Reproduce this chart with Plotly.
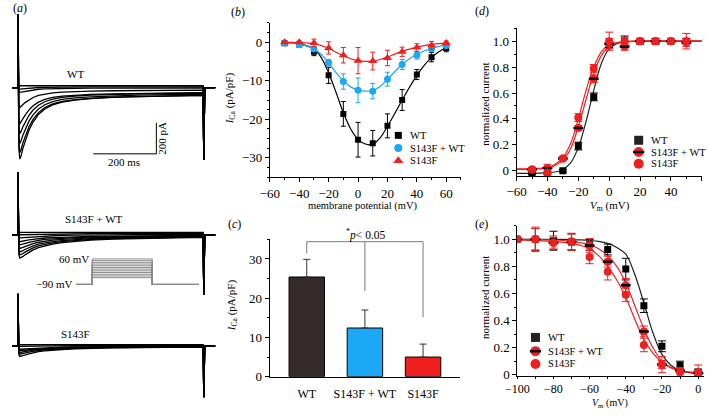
import plotly.graph_objects as go

W, H = 707, 419
SERIF = "Liberation Serif"
RED = "#f01f1f"
BLUE = "#1ca8f5"
TICK_SIZE = 13
TEXT_SIZE = 11

# ---------------- (a) whole-cell current traces (template) ----------------
trace_t_ms = [-19, -0.5, 0, 0.8, 3, 6, 10, 16, 24, 35, 48, 65, 85, 110, 140, 180, 230, 300, 380, 470, 586, 588, 591, 625]
cap_on  = [0, 0, 1, 0, 0, 0, 0, 0, 0, 0, 0, 0, 0, 0, 0, 0, 0, 0, 0, 0, 0, 0, 0, 0]
cap_off = [0, 0, 0, 0, 0, 0, 0, 0, 0, 0, 0, 0, 0, 0, 0, 0, 0, 0, 0, 0, 0, 1, 0, 0]
plateau = [0, 0, 0, 0.4, 1, 1, 1, 1, 1, 1, 1, 1, 1, 1, 1, 1, 1, 1, 1, 1, 1, 0, 0, 0]
wt_shape  = [0, 0, 0, 0.3, 0.85, 1.0, 0.95, 0.84, 0.72, 0.58, 0.46, 0.35, 0.27, 0.21, 0.17, 0.14, 0.12, 0.10, 0.09, 0.08, 0.07, 0, 0, 0]
mut_shape = [0, 0, 0, 0.3, 0.85, 1.0, 0.98, 0.93, 0.85, 0.75, 0.65, 0.55, 0.47, 0.40, 0.34, 0.28, 0.23, 0.19, 0.16, 0.13, 0.11, 0, 0, 0]

wt_peaks_pA = [0, 15, 30, 120, 215, 280, 340, 395, 441]
wt_late_pA = [-12, -6, 0, 8, 18, 15, 18, 22, 18]
mix_peaks_pA = [0, 10, 25, 45, 65, 88, 110, 130, 150]
mix_late_pA = [-15, -10, -5, 0, 0, 0, 0, 0, 0]
mut_peaks_pA = [0, 8, 21, 29, 42, 53, 67]
mut_late_pA = [-8, -5, 0, 0, 0, 0, 0]
cap_spike_pA = [470, 400, 335]
tail_spike_pA = [465, 385, 330]
trace_labels = ["WT", "S143F + WT", "S143F"]

# voltage protocol (inset)
proto_t_ms = [-82, 0, 0, 300, 300, 533]
proto_hold_mV = -90
proto_steps_mV = [-50, -40, -30, -20, -10, 0, 10, 20, 30, 40, 50, 60]

# scale bar
scale_ms = 200
scale_pA = 200

# ---------------- (b) I-V ----------------
b_V = [-50, -40, -30, -20, -10, 0, 10, 20, 30, 40, 50, 60]
b_WT = [-0.3, -0.6, -2.5, -8.6, -18.6, -25.3, -26.2, -21.7, -15.0, -8.4, -3.9, -1.5]
b_WT_err = [0.3, 0.4, 1.0, 2.1, 3.2, 4.5, 3.3, 3.1, 2.7, 1.3, 1.2, 1.0]
b_mix = [-0.2, -0.7, -1.8, -5.3, -10.2, -12.5, -12.7, -9.6, -5.8, -3.4, -1.7, -0.85]
b_mix_err = [0.2, 0.3, 0.6, 0.8, 2.0, 3.2, 2.0, 1.8, 1.3, 1.0, 0.8, 0.6]
b_mut = [0.0, 0.0, -0.2, -1.5, -3.4, -4.8, -4.9, -4.1, -2.5, -1.4, -0.8, -0.2]
b_mut_err = [0.2, 0.3, 1.0, 1.6, 2.0, 3.4, 2.3, 2.0, 1.2, 1.0, 1.0, 0.5]
b_fit_V = [-50, -40, -30, -25, -20, -15, -10, -5, 0, 5, 10, 15, 20, 25, 30, 35, 40, 45, 50, 55, 60]
b_fit_WT = [-0.1, -0.4, -1.8, -4.0, -8.0, -13.0, -18.3, -22.5, -25.2, -26.4, -26.5, -24.8, -21.8, -18.5, -15.0, -11.7, -8.6, -6.0, -4.0, -2.5, -1.4]
b_fit_mix = [-0.1, -0.5, -1.7, -3.2, -5.3, -7.9, -10.0, -11.6, -12.4, -12.7, -12.6, -11.5, -9.7, -7.6, -5.8, -4.3, -3.2, -2.3, -1.6, -1.1, -0.7]
b_fit_mut = [0.0, -0.1, -0.4, -0.9, -1.6, -2.6, -3.5, -4.3, -4.8, -5.0, -4.9, -4.5, -3.9, -3.1, -2.4, -1.8, -1.3, -0.9, -0.6, -0.4, -0.2]

# ---------------- (c) peak current density ----------------
c_groups = ["WT", "S143F + WT", "S143F"]
c_mean = [25.4, 12.4, 5.0]
c_err = [4.5, 4.6, 3.3]
c_colors = ["#332a29", BLUE, RED]
bracket_top = 34.4
bracket_bottoms = [31.4, 21.8, 15.2]

# ---------------- (d) activation ----------------
d_V = [-50, -40, -30, -20, -10, 0, 10, 20, 30, 40, 50]
d_WT = [-0.02, -0.02, 0.0, 0.19, 0.57, 0.97, 1.0, 1.0, 1.0, 1.0, 1.0]
d_WT_err = [0.01, 0.01, 0.01, 0.03, 0.03, 0.02, 0.04, 0.02, 0.02, 0.01, 0.02]
d_mix = [0.01, 0.02, 0.095, 0.33, 0.71, 0.98, 0.96, 1.0, 1.0, 1.0, 0.99]
d_mix_err = [0.01, 0.03, 0.01, 0.02, 0.03, 0.04, 0.03, 0.02, 0.02, 0.01, 0.03]
d_mut = [0.01, -0.02, 0.095, 0.41, 0.79, 1.0, 1.0, 1.0, 1.0, 1.0, 1.0]
d_mut_err = [0.01, 0.05, 0.01, 0.03, 0.03, 0.07, 0.03, 0.02, 0.02, 0.01, 0.06]
d_fit_V = [-60, -50, -40, -35, -30, -25, -20, -15, -10, -5, 0, 5, 10, 20, 30, 40, 50, 60]
d_fit_WT = [-0.02, -0.02, -0.015, -0.01, 0.01, 0.06, 0.18, 0.38, 0.62, 0.83, 0.94, 0.98, 0.995, 1.0, 1.0, 1.0, 1.0, 1.0]
d_fit_mix = [0.01, 0.012, 0.02, 0.04, 0.08, 0.17, 0.34, 0.55, 0.75, 0.89, 0.96, 0.985, 0.995, 1.0, 1.0, 1.0, 1.0, 1.0]
d_fit_mut = [0.015, 0.017, 0.025, 0.05, 0.10, 0.21, 0.40, 0.62, 0.80, 0.92, 0.975, 0.99, 0.997, 1.0, 1.0, 1.0, 1.0, 1.0]

# ---------------- (e) steady-state inactivation ----------------
e_V = [-100, -90, -80, -70, -60, -50, -40, -30, -20, -10, 0]
e_WT = [1.0, 1.0, 0.99, 0.98, 0.96, 0.925, 0.78, 0.51, 0.21, 0.07, 0.02]
e_WT_err = [0.01, 0.08, 0.07, 0.06, 0.04, 0.04, 0.08, 0.05, 0.04, 0.03, 0.02]
e_mix = [1.0, 1.0, 0.975, 0.98, 0.955, 0.835, 0.66, 0.32, 0.075, 0.03, 0.015]
e_mix_err = [0.01, 0.09, 0.05, 0.06, 0.05, 0.04, 0.05, 0.04, 0.03, 0.02, 0.02]
e_mut = [1.0, 1.0, 0.975, 0.985, 0.87, 0.76, 0.59, 0.22, 0.075, 0.02, 0.012]
e_mut_err = [0.01, 0.08, 0.04, 0.06, 0.05, 0.06, 0.05, 0.05, 0.06, 0.03, 0.06]
e_fit_V = [-100, -90, -80, -70, -65, -60, -55, -50, -45, -40, -35, -30, -25, -20, -15, -10, -5, 0, 3]
e_fit_WT = [1.0, 1.0, 1.0, 0.998, 0.996, 0.992, 0.985, 0.97, 0.94, 0.89, 0.74, 0.53, 0.31, 0.15, 0.07, 0.03, 0.015, 0.008, 0.006]
e_fit_mix = [1.0, 0.998, 0.995, 0.985, 0.975, 0.96, 0.93, 0.88, 0.8, 0.68, 0.51, 0.34, 0.2, 0.1, 0.055, 0.03, 0.02, 0.015, 0.013]
e_fit_mut = [0.995, 0.99, 0.985, 0.97, 0.955, 0.93, 0.88, 0.8, 0.7, 0.57, 0.41, 0.26, 0.16, 0.09, 0.05, 0.03, 0.02, 0.015, 0.013]

legend_names = ["WT", "S143F + WT", "S143F"]


# ---------------- helpers ----------------
def dx(a, b):
    return [a / W, b / W]


def dy(top, bottom):
    return [1 - bottom / H, 1 - top / H]


def ann(text, x, y, size=TEXT_SIZE, xanchor="center", yanchor="middle", angle=0):
    return dict(text=text, x=x / W, y=1 - y / H, xref="paper", yref="paper",
                showarrow=False, xanchor=xanchor, yanchor=yanchor, textangle=angle,
                font=dict(family=SERIF, size=size, color="black"))


def hidden(domain, rng, anchor):
    return dict(domain=domain, range=rng, visible=False, anchor=anchor, fixedrange=True)


def axis(domain, rng, anchor, dtick, minor_dtick, **kw):
    d = dict(domain=domain, range=rng, anchor=anchor, showline=True, linecolor="black",
             linewidth=1, ticks="outside", ticklen=4, tickwidth=1, tickcolor="black",
             showgrid=False, zeroline=False,
             tickfont=dict(family=SERIF, size=TICK_SIZE, color="black"),
             dtick=dtick, tick0=0,
             minor=dict(dtick=minor_dtick, tick0=0, ticks="outside", ticklen=2,
                        tickcolor="black", showgrid=False))
    d.update(kw)
    return d


fig = go.Figure()

# ---------------- (a) ----------------
groups = [
    (wt_peaks_pA, wt_late_pA, wt_shape, "x", "y"),
    (mix_peaks_pA, mix_late_pA, mut_shape, "x2", "y2"),
    (mut_peaks_pA, mut_late_pA, mut_shape, "x3", "y3"),
]
for gi, (peaks, lates, shape, xa, ya) in enumerate(groups):
    for pk, lt in zip(peaks, lates):
        cur = [cap_spike_pA[gi] * c1 - tail_spike_pA[gi] * c2 - pk * s - lt * p
               for c1, c2, s, p in zip(cap_on, cap_off, shape, plateau)]
        fig.add_trace(go.Scatter(x=trace_t_ms, y=cur, mode="lines", xaxis=xa, yaxis=ya,
                                 line=dict(color="black", width=1.3), showlegend=False,
                                 hoverinfo="skip"))

for v in proto_steps_mV:
    fig.add_trace(go.Scatter(x=proto_t_ms, y=[proto_hold_mV, proto_hold_mV, v, v, proto_hold_mV, proto_hold_mV],
                             mode="lines", xaxis="x4", yaxis="y4",
                             line=dict(color="#8a8a8a", width=1), showlegend=False, hoverinfo="skip"))

# ---------------- (b) ----------------
for fy, col in [(b_fit_WT, "black"), (b_fit_mix, BLUE), (b_fit_mut, RED)]:
    fig.add_trace(go.Scatter(x=b_fit_V, y=fy, mode="lines", line=dict(color=col, width=1.2, shape="spline"),
                             xaxis="x5", yaxis="y5", showlegend=False, hoverinfo="skip"))
for yv, err, col, sym, sz in [(b_WT, b_WT_err, "black", "square", 6),
                              (b_mix, b_mix_err, BLUE, "circle", 7),
                              (b_mut, b_mut_err, RED, "triangle-up", 8)]:
    fig.add_trace(go.Scatter(x=b_V, y=yv, mode="markers", xaxis="x5", yaxis="y5",
                             marker=dict(symbol=sym, size=sz, color=col, line=dict(width=0)),
                             error_y=dict(type="data", array=err, color=col, thickness=1, width=2.5),
                             showlegend=False))

# ---------------- (c) ----------------
fig.add_trace(go.Bar(x=c_groups, y=c_mean, width=0.61, xaxis="x6", yaxis="y6",
                     marker=dict(color=c_colors, line=dict(color="black", width=1)),
                     error_y=dict(type="data", symmetric=False, array=c_err, arrayminus=[0, 0, 0],
                                  color="#333333", thickness=1, width=3.5),
                     showlegend=False))

# ---------------- (d) & (e) ----------------
for (V, ys, errs, fitV, fits, xa, ya) in [
    (d_V, (d_WT, d_mix, d_mut), (d_WT_err, d_mix_err, d_mut_err), d_fit_V, (d_fit_WT, d_fit_mix, d_fit_mut), "x7", "y7"),
    (e_V, (e_WT, e_mix, e_mut), (e_WT_err, e_mix_err, e_mut_err), e_fit_V, (e_fit_WT, e_fit_mix, e_fit_mut), "x8", "y8"),
]:
    for fy, col in zip(fits, ["#222222", RED, RED]):
        fig.add_trace(go.Scatter(x=fitV, y=fy, mode="lines", line=dict(color=col, width=1.2, shape="spline"),
                                 xaxis=xa, yaxis=ya, showlegend=False, hoverinfo="skip"))
    fig.add_trace(go.Scatter(x=V, y=ys[0], mode="markers", xaxis=xa, yaxis=ya,
                             marker=dict(symbol="square", size=7, color="black"),
                             error_y=dict(type="data", array=errs[0], color="black", thickness=1, width=4),
                             showlegend=False))
    fig.add_trace(go.Scatter(x=V, y=ys[1], mode="markers", xaxis=xa, yaxis=ya,
                             marker=dict(symbol="circle", size=8, color=RED),
                             error_y=dict(type="data", array=errs[1], color=RED, thickness=1, width=4),
                             showlegend=False))
    fig.add_trace(go.Scatter(x=V, y=ys[1], mode="markers", xaxis=xa, yaxis=ya,
                             marker=dict(symbol="line-ew", size=7, color="black", line=dict(color="black", width=2.5)),
                             showlegend=False, hoverinfo="skip"))
    fig.add_trace(go.Scatter(x=V, y=ys[2], mode="markers", xaxis=xa, yaxis=ya,
                             marker=dict(symbol="circle", size=8, color=RED),
                             error_y=dict(type="data", array=errs[2], color=RED, thickness=1, width=4),
                             showlegend=False))


# ---------------- legends (drawn on a full-figure pixel overlay) ----------------
def legend_block(x0, ys, symbols, colors, sizes, band):
    for i, y in enumerate(ys):
        fig.add_trace(go.Scatter(x=[x0], y=[y], mode="markers", xaxis="x9", yaxis="y9",
                                 marker=dict(symbol=symbols[i], size=sizes[i], color=colors[i]),
                                 showlegend=False, hoverinfo="skip"))
        if band[i]:
            fig.add_trace(go.Scatter(x=[x0], y=[y], mode="markers", xaxis="x9", yaxis="y9",
                                     marker=dict(symbol="line-ew", size=8, color="black",
                                                 line=dict(color="black", width=2.5)),
                                     showlegend=False, hoverinfo="skip"))


legend_block(393, [138, 151, 164], ["square", "circle", "triangle-up"], ["black", BLUE, RED], [7, 8, 9], [0, 0, 0])
legend_block(637.5, [143, 155, 167], ["square", "circle", "circle"], ["#222222", RED, RED], [9, 10, 10], [0, 1, 0])
legend_block(532.5, [344, 358, 371], ["square", "circle", "circle"], ["#222222", RED, RED], [9, 10, 10], [0, 1, 0])

annotations = []
for (tx, ys) in [(403, [138, 151, 164]), (648, [143, 155, 167]), (543, [344, 358, 371])]:
    for name, y in zip(legend_names, ys):
        annotations.append(ann(name, tx, y, size=10.5, xanchor="left"))

# panel letters
for t, x, y in [("(<i>a</i>)", 8, 8), ("(<i>b</i>)", 230, 12), ("(<i>c</i>)", 226, 228),
                ("(<i>d</i>)", 478, 11), ("(<i>e</i>)", 478, 228)]:
    annotations.append(ann(t, x, y, size=12))

# panel (a) labels
annotations += [
    ann(trace_labels[0], 65, 75),
    ann(trace_labels[1], 83, 223),
    ann(trace_labels[2], 65, 340),
    ann(f"{scale_ms} ms", 114, 165),
    ann(f"{scale_pA} pA", 153, 141, angle=-90),
    ann(f"{proto_steps_mV[-1]} mV", 80, 264, xanchor="right"),
    ann(f"\u2212{abs(proto_hold_mV)} mV", 64, 290, xanchor="right"),
]

# axis titles
ica = "<i>I</i><sub>Ca</sub> (pA/pF)"
vm = "<i>V</i><sub>m</sub> (mV)"
annotations += [
    ann(ica, 222, 100, angle=-90),
    ann("membrane potential (mV)", 357, 210, size=10.5),
    ann(ica, 224, 311, angle=-90),
    ann("normalized current", 481, 106, angle=-90),
    ann(vm, 608, 210),
    ann("normalized current", 481, 303, angle=-90),
    ann(vm, 608, 420, size=10, yanchor="bottom"),
    # significance label above the bracket
    ann("<sup>*</sup><i>p</i>< 0.05", 360, 239, size=11.5),
]

shapes = []
# scale bar in WT trace axes
sb_t, sb_i = 438, -425
shapes.append(dict(type="line", xref="x", yref="y", x0=sb_t - scale_ms, x1=sb_t, y0=sb_i, y1=sb_i,
                   line=dict(color="black", width=1)))
shapes.append(dict(type="line", xref="x", yref="y", x0=sb_t, x1=sb_t, y0=sb_i, y1=sb_i + scale_pA,
                   line=dict(color="black", width=1)))
# significance bracket
gray = dict(color="#7a7a7a", width=1)
shapes.append(dict(type="line", xref="x6", yref="y6", x0=0, x1=2, y0=bracket_top, y1=bracket_top, line=gray))
for i, yb in enumerate(bracket_bottoms):
    shapes.append(dict(type="line", xref="x6", yref="y6", x0=i, x1=i, y0=yb, y1=bracket_top, line=gray))

a_x = dx(0, 207)
a_rng = [-18.7, 625]
yticks01 = dict(tickmode="array", tickvals=[0, 0.2, 0.4, 0.6, 0.8, 1.0],
                ticktext=["0", "0.2", "0.4", "0.6", "0.8", "1.0"])
fig.update_layout(
    width=W, height=H, margin=dict(l=0, r=0, t=0, b=0),
    paper_bgcolor="white", plot_bgcolor="rgba(0,0,0,0)",
    showlegend=False,
    xaxis=hidden(a_x, a_rng, "y"), yaxis=hidden(dy(12, 170), [-508, 487], "x"),
    xaxis2=hidden(a_x, a_rng, "y2"), yaxis2=hidden(dy(172, 305), [-414, 424], "x2"),
    xaxis3=hidden(a_x, a_rng, "y3"), yaxis3=hidden(dy(297, 410), [-361, 351], "x3"),
    xaxis4=hidden(dx(65, 190), [-82, 533], "y4"), yaxis4=hidden(dy(262, 292), [-101.5, 71.5], "x4"),
    xaxis5=axis(dx(262.3, 456.7), [-60, 70], "y5", 20, 10),
    yaxis5=axis(dy(23.3, 180.6), [-35, 5], "x5", 10, 2.5),
    xaxis6=dict(domain=dx(262, 456), range=[-0.64, 2.64], anchor="y6", showline=True, linecolor="black",
                linewidth=1, ticks="outside", ticklen=6, tickcolor="rgba(0,0,0,0)", showgrid=False,
                zeroline=False, type="category",
                tickfont=dict(family=SERIF, size=TICK_SIZE - 1, color="black")),
    yaxis6=axis(dy(244, 384), [0, 35], "x6", 10, 5),
    xaxis7=axis(dx(513.3, 701.7), [-60, 60], "y7", 20, 10),
    yaxis7=axis(dy(28.8, 179.3), [-0.04, 1.1], "x7", None, 0.1, **yticks01),
    xaxis8=axis(dx(514, 703.5), [-100, 3], "y8", 20, 10, ticklen=2,
                tickfont=dict(family=SERIF, size=12, color="black")),
    yaxis8=axis(dy(230.2, 383.4), [-0.01, 1.1], "x8", None, 0.1, **yticks01),
    xaxis9=dict(domain=[0, 1], range=[0, W], visible=False, anchor="y9", fixedrange=True),
    yaxis9=dict(domain=[0, 1], range=[H, 0], visible=False, anchor="x9", fixedrange=True),
    annotations=annotations,
    shapes=shapes,
)

fig.write_html("out.html", config={"displayModeBar": False},
               post_script="document.body.style.margin='0';document.body.style.padding='0';"
                           "document.body.style.overflow='hidden';")
